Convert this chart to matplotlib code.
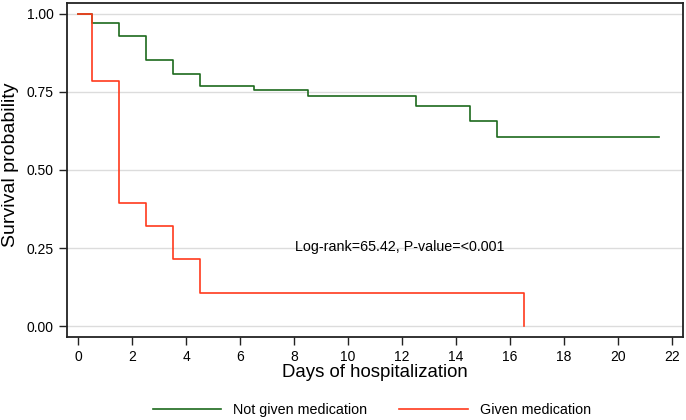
import matplotlib.pyplot as plt
import numpy as np

plt.rcParams["font.family"] = ["Liberation Sans", "DejaVu Sans"]

# Kaplan-Meier step data (time, survival)
not_given_days = [0, 0.5, 1.5, 2.5, 3.5, 4.5, 6.5, 8.5, 12.5, 14.5, 15.5, 21.5]
not_given_surv = [1.00, 0.970, 0.928, 0.851, 0.806, 0.768, 0.755, 0.736, 0.706, 0.656, 0.606, 0.606]

given_days = [0, 0.5, 1.5, 2.5, 3.5, 4.5, 16.5, 16.5]
given_surv = [1.00, 0.786, 0.393, 0.322, 0.214, 0.107, 0.107, 0.0]

x_ticks = list(range(0, 23, 2))
y_ticks = [0.00, 0.25, 0.50, 0.75, 1.00]
annotation = "Log-rank=65.42, P-value=<0.001"

green = "#1d6a1d"
red = "#ff3a1c"

fig = plt.figure(figsize=(6.86, 4.20), dpi=100)
ax = fig.add_axes([0.0977, 0.1976, 0.8979, 0.7953])

ax.step(not_given_days, not_given_surv, where="post", color=green, lw=1.2,
        label="Not given medication", zorder=3)
ax.step(given_days, given_surv, where="post", color=red, lw=1.2,
        label="Given medication", zorder=3)

ax.set_xlim(-0.41, 22.4)
ax.set_ylim(-0.035, 1.035)
ax.set_xticks(x_ticks)
ax.set_yticks(y_ticks)
ax.set_yticklabels([f"{v:.2f}" for v in y_ticks])
ax.tick_params(axis="both", direction="out", length=5.5, width=1, labelsize=10,
               color="#222222")
ax.tick_params(axis="y", pad=4)
ax.tick_params(axis="x", pad=4)

for y in y_ticks:
    ax.axhline(y, color="#dcdcdc", lw=1, zorder=1)

for s in ax.spines.values():
    s.set_color("#222222")
    s.set_linewidth(1.3)

ax.set_xlabel("Days of hospitalization", fontsize=13.4, labelpad=0)
ax.set_ylabel("Survival probability", fontsize=14, labelpad=4)
ax.yaxis.set_label_coords(-0.078, 0.515)

ax.text(8.05, 0.253, annotation, fontsize=10.3, va="center", ha="left")

handles, labels = ax.get_legend_handles_labels()
fig.legend(handles, labels, loc="center", bbox_to_anchor=(0.542, 0.024), ncol=2,
           frameon=False, fontsize=10.3, handlelength=4.8, handletextpad=0.85,
           columnspacing=2.2)

fig.savefig("out.png", dpi=100)
